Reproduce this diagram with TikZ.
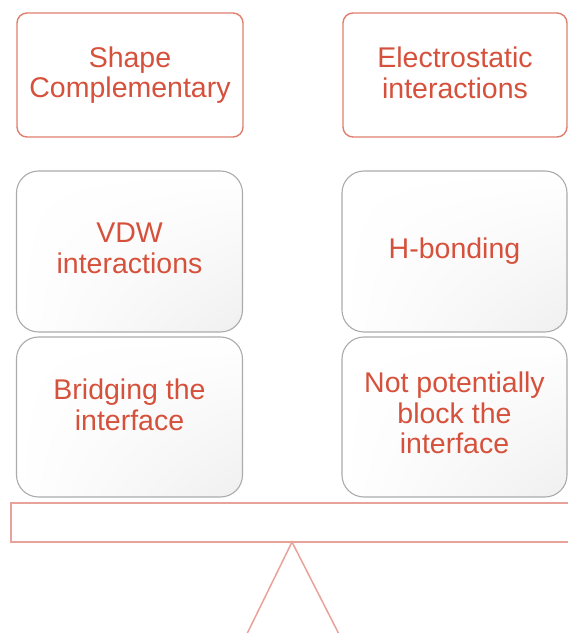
\documentclass[tikz,border=0pt]{standalone}
\usepackage{fontspec}
\setmainfont{Liberation Sans}
\usetikzlibrary{shadings}
\begin{document}
\definecolor{labelred}{HTML}{D6513C}
\definecolor{topedge}{HTML}{E07E6E}
\definecolor{beamedge}{HTML}{E9A29A}
\definecolor{greyedge}{HTML}{ABABAB}
\tikzset{
  toptile/.style={draw=topedge, line width=1.4pt, rounded corners=10pt,
    fill=white, minimum width=226pt, minimum height=124pt, inner sep=0pt},
  softtile/.style={draw=greyedge, line width=1.1pt, rounded corners=22pt,
    minimum width=226pt, minimum height=160pt, inner sep=0pt,
    upper left=white, upper right=white, lower left=white, lower right=black!6},
  caption/.style={text=labelred, align=center, inner sep=0pt,
    font=\fontsize{28.5}{30.5}\selectfont},
  beambar/.style={draw=beamedge, line width=1.8pt, fill=white,
    minimum width=580pt, minimum height=39pt, inner sep=0pt, anchor=west},
  fulcrum/.style={draw=beamedge, line width=1.5pt}
}
\begin{tikzpicture}[x=1pt,y=1pt]
  \useasboundingbox (0,0) rectangle (568,633);
  \clip (0,0) rectangle (568,633);

  % top row
  \node[toptile] (shape) at (130,558) {};
  \node[toptile, minimum width=224pt] (elec) at (455,558) {};
  \node[caption] (shapetxt) at (shape.center) {Shape\\Complementary};
  \node[caption, yshift=2pt] (electxt) at (elec.center) {Electrostatic\\interactions};

  % middle row
  \node[softtile, shade, minimum height=161pt] (vdw) at (129.5,381.5) {};
  \node[softtile, shade, minimum height=161pt, minimum width=225pt] (hbond) at (454.5,381.5) {};
  \node[caption, yshift=3pt] (vdwtxt) at (vdw.center) {VDW\\interactions};
  \node[caption] (hbondtxt) at (hbond.center) {H-bonding};

  % bottom row
  \node[softtile, shade] (bridge) at (129.5,216) {};
  \node[softtile, shade, minimum width=225pt] (noblock) at (454.5,216) {};
  \node[caption, yshift=12pt] (bridgetxt) at (bridge.center) {Bridging the\\interface};
  \node[caption, yshift=4pt] (noblocktxt) at (noblock.center) {Not potentially\\block the\\interface};

  % seesaw beam and fulcrum
  \node[beambar] (beam) at (10,110.5) {};
  \coordinate (apex) at (292,91);
  \coordinate (footl) at (243,-9);
  \coordinate (footr) at (343,-9);
  \draw[fulcrum] (footl) -- (apex) -- (footr);
\end{tikzpicture}
\end{document}
